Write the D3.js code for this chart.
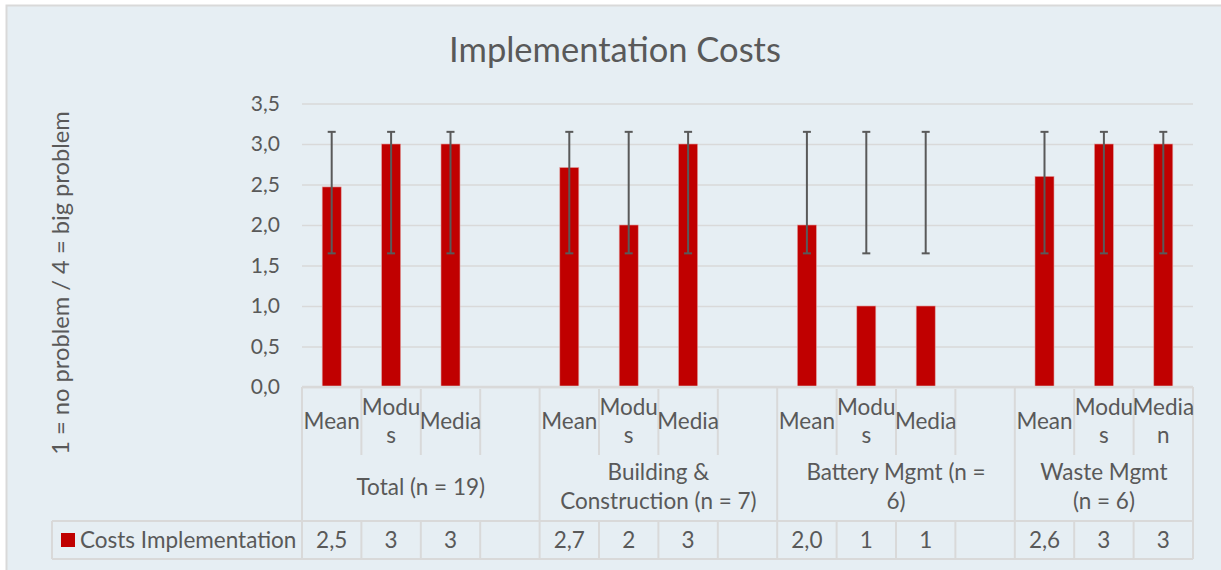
<!DOCTYPE html>
<meta charset="utf-8">
<script src="https://d3js.org/d3.v7.min.js"></script>
<style>
body { margin: 0; background: #fff; }
text { font-family: Lato, "Noto Sans", sans-serif; fill: #595959; }
</style>
<div id="main"></div>
<script>

// data
const groups = ["Total (n = 19)", "Building &|Construction (n = 7)", "Battery Mgmt (n =|6)", "Waste Mgmt|(n = 6)"];
const subLabels = [
  ["Mean", "Modu|s", "Media", ""],
  ["Mean", "Modu|s", "Media", ""],
  ["Mean", "Modu|s", "Media", ""],
  ["Mean", "Modu|s", "Media|n"]
];
const values = [2.47, 3, 3, null, 2.71, 2, 3, null, 2.0, 1, 1, null, 2.6, 3, 3];
const tableLabels = ["2,5", "3", "3", "", "2,7", "2", "3", "", "2,0", "1", "1", "", "2,6", "3", "3"];
const errLow  = [1.65, 1.65, 1.65, null, 1.65, 1.65, 1.65, null, 1.65, 1.65, 1.65, null, 1.65, 1.65, 1.65];
const errHigh = [3.15, 3.15, 3.15, null, 3.15, 3.15, 3.15, null, 3.15, 3.15, 3.15, null, 3.15, 3.15, 3.15];
const yTicks = [0, 0.5, 1, 1.5, 2, 2.5, 3, 3.5];
const seriesName = "Costs Implementation";

const width = 1221, height = 570;
const plot = {left: 302, right: 1193, top: 103.5, bottom: 387};
const grid = "#d9d9d9", red = "#c00000";
const fs = 22.5;

// flat category list
let cats = [];
subLabels.forEach((subs, gi) => subs.forEach((s, si) => cats.push({g: gi, s: si, label: s})));
cats.forEach((c, i) => {
  c.id = "c" + i;
  c.value = values[i];
  c.lo = errLow[i];
  c.hi = errHigh[i];
  c.table = tableLabels[i];
});

const svg = d3.select("#main").append("svg")
    .attr("width", width)
    .attr("height", height);

svg.append("rect")
    .attr("x", 6.5).attr("y", 5.5)
    .attr("width", width + 10).attr("height", height + 10)
    .attr("fill", "#e6eef3")
    .attr("stroke", "#d9d9d9")
    .attr("stroke-width", 2);

const x = d3.scaleBand()
    .domain(cats.map(d => d.id))
    .range([plot.left, plot.right]);

const y = d3.scaleLinear()
    .domain([0, 3.5])
    .range([plot.bottom, plot.top]);

const comma = d3.formatLocale({decimal: ",", thousands: ".", grouping: [3], currency: ["", ""]}).format(".1f");

// title
svg.append("text")
    .attr("x", 615).attr("y", 50)
    .attr("dy", "0.35em")
    .attr("text-anchor", "middle")
    .attr("font-size", 34.5)
    .text("Implementation Costs");

// y axis title
svg.append("text")
    .attr("transform", "translate(61,283) rotate(-90)")
    .attr("dy", "0.35em")
    .attr("text-anchor", "middle")
    .attr("font-size", 23.7)
    .text("1 = no problem / 4 = big problem");

// gridlines + y labels
const yAxis = d3.axisLeft(y)
    .tickValues(yTicks)
    .tickSize(-(plot.right - plot.left))
    .tickPadding(22)
    .tickFormat(comma);

svg.append("g")
    .attr("transform", "translate(" + plot.left + ",0)")
    .call(yAxis)
    .call(g => g.select(".domain").remove())
    .call(g => g.selectAll(".tick line").attr("stroke", grid).attr("stroke-width", 1.5))
    .call(g => g.selectAll(".tick text").attr("font-size", 21).attr("fill", "#595959")
      .style("font-family", "Lato, sans-serif"));

// bars
svg.append("g").selectAll("rect")
    .data(cats.filter(d => d.value != null))
    .join("rect")
    .attr("x", d => x(d.id) + x.bandwidth() * 0.34)
    .attr("width", x.bandwidth() * 0.32)
    .attr("y", d => y(d.value))
    .attr("height", d => y(0) - y(d.value))
    .attr("fill", red)
    .attr("stroke", "#e0a0a0")
    .attr("stroke-width", 0.6);

// error bars
const eb = svg.append("g")
    .attr("stroke", "#595959")
    .attr("stroke-width", 2)
  .selectAll("g")
    .data(cats.filter(d => d.lo != null))
    .join("g")
    .attr("transform", d => "translate(" + (x(d.id) + x.bandwidth() / 2) + ",0)");
eb.append("line").attr("y1", d => y(d.lo)).attr("y2", d => y(d.hi));
eb.append("line").attr("x1", -4).attr("x2", 4).attr("y1", d => y(d.lo)).attr("y2", d => y(d.lo));
eb.append("line").attr("x1", -4).attr("x2", 4).attr("y1", d => y(d.hi)).attr("y2", d => y(d.hi));

// axis line
svg.append("line")
    .attr("x1", plot.left).attr("x2", plot.right)
    .attr("y1", y(0)).attr("y2", y(0))
    .attr("stroke", grid).attr("stroke-width", 2.5);

// data table below the axis
const rowSubTop = 389, rowSubBot = 455, rowGrpBot = 521, rowDataBot = 559;
const tbl = svg.append("g").attr("stroke", grid).attr("stroke-width", 2);

// sub-level dividers
cats.forEach((c, i) => {
  const xl = x(c.id);
  const groupStart = c.s === 0;
  tbl.append("line")
      .attr("x1", xl).attr("x2", xl)
      .attr("y1", groupStart ? y(0) : rowSubTop)
      .attr("y2", groupStart ? rowDataBot : rowSubBot);
  if (!groupStart) {
    tbl.append("line")
        .attr("x1", xl).attr("x2", xl)
        .attr("y1", rowGrpBot).attr("y2", rowDataBot);
  }
});
tbl.append("line")
    .attr("x1", plot.right).attr("x2", plot.right)
    .attr("y1", y(0)).attr("y2", rowDataBot);

// horizontal lines of the data row + legend cell
tbl.append("line").attr("x1", 52).attr("x2", plot.right).attr("y1", rowGrpBot).attr("y2", rowGrpBot);
tbl.append("line").attr("x1", 52).attr("x2", plot.right).attr("y1", rowDataBot).attr("y2", rowDataBot);
tbl.append("line").attr("x1", 52).attr("x2", 52).attr("y1", rowGrpBot).attr("y2", rowDataBot);

function multiline(sel, str, cx, cy, lh) {
  const lines = str.split("|");
  const t = sel.append("text")
      .attr("text-anchor", "middle")
      .attr("font-size", fs);
  lines.forEach((l, i) => {
    t.append("tspan")
        .attr("x", cx)
        .attr("y", cy + (i - (lines.length - 1) / 2) * lh)
        .attr("dy", "0.35em")
        .text(l);
  });
  return t;
}

const labels = svg.append("g");
cats.forEach(c => {
  const cx = x(c.id) + x.bandwidth() / 2;
  if (c.label) multiline(labels, c.label, cx, 421, 28);
  multiline(labels, c.table, cx, 540, 28);
});

// group labels
groups.forEach((g, gi) => {
  const members = cats.filter(c => c.g === gi);
  const x0 = x(members[0].id), x1 = x(members[members.length - 1].id) + x.bandwidth();
  multiline(labels, g, (x0 + x1) / 2, 487, 29);
});

// legend key
svg.append("rect")
    .attr("x", 61).attr("y", 533)
    .attr("width", 14).attr("height", 14)
    .attr("fill", red);
svg.append("text")
    .attr("x", 80).attr("y", 540)
    .attr("dy", "0.35em")
    .attr("font-size", fs)
    .text(seriesName);

</script>
